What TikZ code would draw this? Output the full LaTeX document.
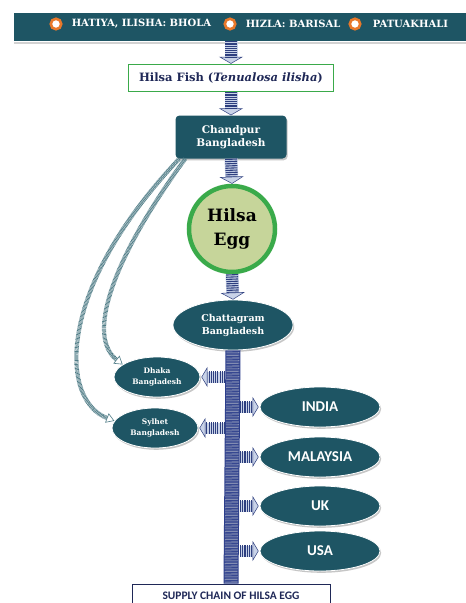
\documentclass[tikz,border=0pt]{standalone}
\usepackage{fontspec}
\setmainfont{DejaVu Serif}
\newfontfamily\countryfont{Carlito}
\usetikzlibrary{arrows.meta,shadows,shapes.geometric,positioning}

\definecolor{darkteal}{HTML}{1E5564}
\definecolor{boxgreen}{HTML}{3AAA4A}
\definecolor{eggfill}{HTML}{C6D59A}
\definecolor{navytext}{HTML}{1F2857}
\definecolor{barnavy}{HTML}{2C3E8C}
\definecolor{arrowbg}{HTML}{C9D3E8}
\definecolor{arrownavy}{HTML}{2E3F7F}
\definecolor{bulletorange}{HTML}{E8782A}
\definecolor{hatchteal}{HTML}{4F7C86}

\tikzset{
  bannertext/.style={text=white, font=\bfseries\fontsize{10}{12}\selectfont, inner sep=0pt},
  bullet/.style={circle, draw=bulletorange, line width=2.6pt, fill=white, minimum size=10.5pt, inner sep=0pt},
  place/.style={fill=darkteal, text=white, align=center, inner sep=1pt,
    drop shadow={shadow xshift=1.2pt, shadow yshift=-1.8pt, fill=gray!45, opacity=1}},
  city/.style={place, ellipse, draw=white, line width=0.8pt},
  country/.style={city, minimum width=120, minimum height=40, font=\countryfont\bfseries\fontsize{15}{17}\selectfont},
  fatarrow/.style={line width=13pt, draw=arrowbg,
    -{Triangle[width=24pt, length=7pt, line width=0.5pt, color=arrownavy, fill=arrowbg]},
    postaction={draw=arrownavy, -, line width=12pt, dash pattern=on 1.1pt off 1.1pt, shorten >=7pt}},
  sidearrow/.style={fatarrow, line width=11pt, shorten >=1pt,
    -{Triangle[width=20pt, length=6pt, line width=0.5pt, color=arrownavy, fill=arrowbg]},
    postaction={draw=arrownavy, -, line width=10pt, dash pattern=on 1.1pt off 1.1pt, shorten >=7pt}},
  curvearrow/.style={line width=4.2pt, draw=hatchteal, dash pattern=on 0.7pt off 0.6pt,
    -{Triangle[width=10pt, length=8pt, line width=0.6pt, color=hatchteal, fill=white]}},
}

\begin{document}
\begin{tikzpicture}[x=1pt, y=-1pt]
  \clip (0,0) rectangle (466,603);
  \fill[white] (0,0) rectangle (466,603);

  % banner with the landing places
  \node[fill=darkteal, minimum width=456, minimum height=28, inner sep=0pt] (banner) at (242,27) {};
  \draw[gray!35, line width=2pt] (14,43) -- (466,43);
  \node[bullet] (b1) at (56,24) {};
  \node[bullet] (b2) at (230,24) {};
  \node[bullet] (b3) at (355,24) {};
  \node[bannertext, right=9pt of b1] (bhola) {HATIYA, ILISHA: BHOLA};
  \node[bannertext, right=9pt of b2] (barisal) {HIZLA: BARISAL};
  \node[bannertext, right=11pt of b3] (patua) {PATUAKHALI};

  % main chain
  \node[draw=boxgreen, line width=1.5pt, fill=white, minimum width=205, minimum height=27,
        text=navytext, font=\bfseries\fontsize{11.5}{13}\selectfont] (fish) at (231,78)
        {Hilsa Fish (\textit{Tenualosa ilisha})};
  \node[place, rounded corners=4pt, minimum width=111, minimum height=43,
        font=\bfseries\fontsize{10.5}{13}\selectfont] (chandpur) at (231,137) {Chandpur\\Bangladesh};
  \node[circle, draw=boxgreen, line width=4.5pt, fill=eggfill, minimum size=86, align=center,
        font=\bfseries\fontsize{17}{24}\selectfont] (egg) at (232,229) {Hilsa\\Egg};
  \node[city, minimum width=120, minimum height=50,
        font=\bfseries\fontsize{9.5}{13}\selectfont] (chattagram) at (233,325) {Chattagram\\Bangladesh};

  \draw[fatarrow] (fish.north |- banner.south) -- (fish.north);
  \draw[fatarrow] (fish.south) -- (chandpur.north);
  \draw[fatarrow] (chandpur.south) -- (egg.north);
  \draw[fatarrow] (egg.south) -- (chattagram.north);

  % domestic and foreign markets
  \node[city, minimum width=86, minimum height=40, font=\bfseries\fontsize{7.5}{11}\selectfont] (dhaka) at (157,377) {Dhaka\\Bangladesh};
  \node[city, minimum width=86, minimum height=40, font=\bfseries\fontsize{7.5}{11}\selectfont] (sylhet) at (155,428) {Sylhet\\Bangladesh};
  \node[country] (india) at (320,407) {INDIA};
  \node[country] (malaysia) at (320,457) {MALAYSIA};
  \node[country] (uk) at (320,506) {UK};
  \node[country] (usa) at (320,551) {USA};

  \node[draw=navytext, line width=0.8pt, fill=white, minimum width=198, minimum height=24,
        text=navytext, font=\countryfont\bfseries\fontsize{11.5}{13}\selectfont] (supply) at (231,596)
        {SUPPLY CHAIN OF HILSA EGG};

  % trunk line
  \draw[line width=15pt, draw=barnavy, postaction={draw=arrownavy!60, line width=13pt, dash pattern=on 0.7pt off 0.9pt}]
    (chattagram.south) -- (supply.north);
  \coordinate (barleft) at (225,350);
  \coordinate (barright) at (240,350);

  \draw[sidearrow] (dhaka.east -| barleft) -- (dhaka.east);
  \draw[sidearrow] (sylhet.east -| barleft) -- (sylhet.east);
  \foreach \c in {india,malaysia,uk,usa}
    \draw[sidearrow] (\c.west -| barright) -- (\c.west);

  % road transport from Chandpur
  \draw[curvearrow] ([xshift=10pt]chandpur.south west) .. controls (115,255) and (85,335) .. (dhaka.160);
  \draw[curvearrow] ([xshift=4pt]chandpur.south west) .. controls (55,290) and (60,400) .. (sylhet.170);
\end{tikzpicture}
\end{document}
